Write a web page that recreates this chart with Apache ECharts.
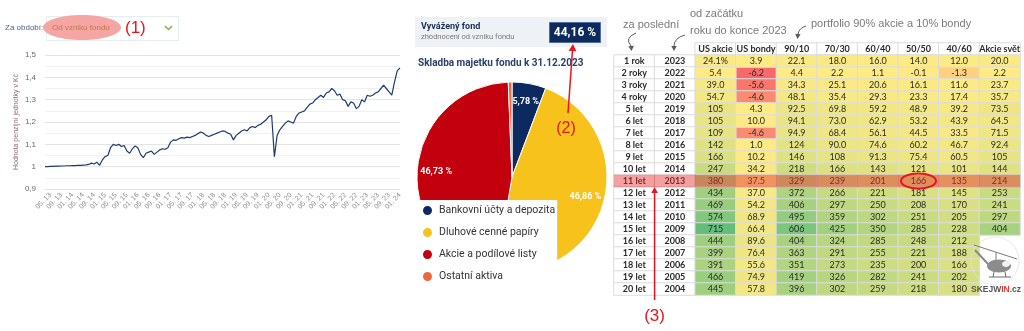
<!DOCTYPE html>
<html>
<head>
<meta charset="utf-8">
<script src="https://cdn.jsdelivr.net/npm/echarts@6/dist/echarts.min.js"></script>
<style>
  html, body { margin: 0; padding: 0; background: #fff; }
  #c { width: 1024px; height: 331px; }
</style>
</head>
<body>
<div id="c"></div>
<script>
// ---- Hodnota penzijní jednotky (měsíční hodnoty od 03.2013) ----
const startYear = 2013;
const startMonth = 3;
const unitValue = [
  // 2013 (03–12)
  1.000, 1.000, 1.001, 1.001, 1.002, 1.002, 1.003, 1.003, 1.004, 1.004,
  // 2014
  1.005, 1.005, 1.006, 1.006, 1.007, 1.008, 1.010, 1.016, 1.012, 1.020, 1.006, 1.030,
  // 2015
  1.045, 1.050, 1.085, 1.100, 1.095, 1.100, 1.090, 1.095, 1.070, 1.060, 1.080, 1.093,
  // 2016
  1.085, 1.055, 1.040, 1.060, 1.065, 1.070, 1.055, 1.065, 1.075, 1.080, 1.078, 1.085,
  // 2017
  1.110, 1.120, 1.118, 1.125, 1.130, 1.128, 1.132, 1.130, 1.135, 1.140, 1.148, 1.155,
  // 2018
  1.150, 1.140, 1.135, 1.140, 1.145, 1.150, 1.155, 1.160, 1.158, 1.150, 1.145, 1.120,
  // 2019
  1.140, 1.150, 1.160, 1.165, 1.160, 1.175, 1.180, 1.175, 1.185, 1.190, 1.200, 1.210,
  // 2020
  1.225, 1.230, 1.045, 1.140, 1.165, 1.180, 1.195, 1.205, 1.200, 1.195, 1.225, 1.240,
  // 2021
  1.245, 1.250, 1.265, 1.280, 1.285, 1.300, 1.310, 1.320, 1.310, 1.330, 1.335, 1.350,
  // 2022
  1.340, 1.320, 1.325, 1.300, 1.295, 1.270, 1.290, 1.285, 1.260, 1.270, 1.300, 1.290,
  // 2023
  1.320, 1.315, 1.320, 1.330, 1.335, 1.350, 1.365, 1.350, 1.335, 1.320, 1.380, 1.430,
  // 2024 (01)
  1.4416
];
const yTicks = { min: 0.9, max: 1.5, step: 0.1 };

// ---- Skladba majetku fondu k 31.12.2023 ----
const fundName = 'Vyvážený fond';
const fundReturn = 44.16;
const assetNames = ['Bankovní účty a depozita', 'Dluhové cenné papíry', 'Akcie a podílové listy', 'Ostatní aktiva'];
const assetShares = [5.78, 46.86, 46.73, 0.63];
const assetColors = ['#0c2a60', '#f8c21c', '#c3000d', '#f0663c'];

// ---- Kumulativní výnosy podle počátečního roku ----
const periodLabels = ['1 rok', '2 roky', '3 roky', '4 roky', '5 let', '6 let', '7 let', '8 let', '9 let', '10 let',
  '11 let', '12 let', '13 let', '14 let', '15 let', '16 let', '17 let', '18 let', '19 let', '20 let'];
const startYears = [2023, 2022, 2021, 2020, 2019, 2018, 2017, 2016, 2015, 2014,
  2013, 2012, 2011, 2010, 2009, 2008, 2007, 2006, 2005, 2004];
const columnNames = ['US akcie', 'US bondy', '90/10', '70/30', '60/40', '50/50', '40/60', 'Akcie svět'];
const usAkcie   = [24.1, 5.4, 39.0, 54.7, 105, 105, 109, 142, 166, 247, 380, 434, 469, 574, 715, 444, 399, 391, 466, 445];
const usBondy   = [3.9, -6.2, -5.6, -4.6, 4.3, 10.0, -4.6, 1.0, 10.2, 34.2, 37.5, 37.0, 54.2, 68.9, 66.4, 89.6, 76.4, 55.6, 74.9, 57.8];
const p90_10    = [22.1, 4.4, 34.3, 48.1, 92.5, 94.1, 94.9, 124, 146, 218, 329, 372, 406, 495, 606, 404, 363, 351, 419, 396];
const p70_30    = [18.0, 2.2, 25.1, 35.4, 69.8, 73.0, 68.4, 90.0, 108, 166, 239, 266, 297, 359, 425, 324, 291, 273, 326, 302];
const p60_40    = [16.0, 1.1, 20.6, 29.3, 59.2, 62.9, 56.1, 74.6, 91.3, 143, 201, 221, 250, 302, 350, 285, 255, 235, 282, 259];
const p50_50    = [14.0, -0.1, 16.1, 23.3, 48.9, 53.2, 44.5, 60.2, 75.4, 121, 166, 181, 208, 251, 285, 248, 221, 200, 241, 218];
const p40_60    = [12.0, -1.3, 11.6, 17.4, 39.2, 43.9, 33.5, 46.7, 60.5, 101, 135, 145, 170, 205, 228, 212, 188, 166, 202, 180];
const akcieSvet = [20.0, 2.2, 23.7, 35.7, 73.5, 64.5, 71.5, 92.4, 105, 144, 214, 253, 241, 297, 404, null, null, null, null, null];
const highlightedPeriod = '11 let';
const circledColumn = '50/50';

// ---------------------------------------------------------------
const chart = echarts.init(document.getElementById('c'), null, { renderer: 'canvas', width: 1024, height: 331 });

const monthLabels = unitValue.map((_, i) => {
  const t = startMonth - 1 + i;
  const y = startYear + Math.floor(t / 12);
  const m = t % 12 + 1;
  return String(m).padStart(2, '0') + '. ' + String(y % 100).padStart(2, '0');
});
const firstLabelIdx = monthLabels.indexOf('05. 13');
const comma = v => String(+v.toFixed(2)).replace('.', ',');

// table cells
const tableColumns = [usAkcie, usBondy, p90_10, p70_30, p60_40, p50_50, p40_60, akcieSvet];
const LEAD = 2; // two leading label columns
const negCells = [], posCells = [], textCells = [];
tableColumns.forEach((col, c) => col.forEach((v, r) => {
  if (v === null) return;
  (v < 0 ? negCells : posCells).push([c + LEAD, r + 1, v]);
}));
columnNames.forEach((_, c) => textCells.push([c + LEAD, 0, 0]));
periodLabels.forEach((_, r) => { textCells.push([0, r + 1, 0]); textCells.push([1, r + 1, 0]); });
const hlRow = periodLabels.indexOf(highlightedPeriod) + 1;
const hlCells = [];
for (let c = 0; c < columnNames.length + LEAD; c++) hlCells.push([c, hlRow, 0]);
const allVals = tableColumns.flat().filter(v => v !== null);
const minVal = Math.min(...allVals), maxVal = Math.max(...allVals);

const fmtCell = (v, c, r) => (Math.abs(v) >= 100 ? String(Math.round(v)) : v.toFixed(1)) + (c === LEAD && r === 1 ? '%' : '');
const textOf = (c, r) => r === 0 ? columnNames[c - LEAD] : (c === 0 ? periodLabels[r - 1] : String(startYears[r - 1]));

const tableFont = { fontFamily: 'Lato, "Open Sans", sans-serif', fontSize: 9, color: '#2a2a2a' };
const cellBorder = { borderColor: '#dcdcdc', borderWidth: 1 };

function arrowHead(tipX, tipY, fromX, fromY, size, color, z) {
  const a = Math.atan2(tipY - fromY, tipX - fromX);
  const w = size * 0.55;
  const bx = tipX - size * Math.cos(a), by = tipY - size * Math.sin(a);
  return {
    type: 'polygon', z: z || 20, silent: true,
    shape: { points: [[tipX, tipY], [bx + w * Math.sin(a), by - w * Math.cos(a)], [bx - w * Math.sin(a), by + w * Math.cos(a)]] },
    style: { fill: color }
  };
}
const txt = (x, y, text, s, z) => ({ type: 'text', x, y, z: z || 5, silent: true,
  style: Object.assign({ text, fill: '#333', fontSize: 10, fontFamily: '"Liberation Sans", Arial, sans-serif', align: 'left', verticalAlign: 'middle' }, s) });

const greyArrow = '#5a5a5a';
const baseGraphic = [
  // period selector
  txt(5, 28, 'Za období:', { fill: '#4b5f88', fontSize: 8 }),
  { type: 'rect', z: 1, silent: true, shape: { x: 46.5, y: 16.5, width: 132, height: 24 }, style: { fill: '#fff', stroke: '#e4eeee', lineWidth: 1 } },
  { type: 'ellipse', z: 2, silent: true, shape: { cx: 82, cy: 27.5, rx: 39, ry: 12.5 }, style: { fill: '#f6a5a5' } },
  txt(52, 28, 'Od vzniku fondu', { fill: '#c27a45', fontSize: 8 }, 3),
  txt(125, 28, '(1)', { fill: '#e8141c', fontSize: 17 }, 3),
  { type: 'polyline', z: 3, silent: true, shape: { points: [[165, 26], [168.5, 29.5], [172, 26]] }, style: { stroke: '#7cb342', lineWidth: 1.5, fill: null } },

  // fund return box
  { type: 'rect', z: 1, silent: true, shape: { x: 415, y: 17, width: 192, height: 30 }, style: { fill: '#eef1f5' } },
  txt(421, 27, fundName, { fill: '#1c2e55', fontSize: 9, fontWeight: 'bold', fontFamily: 'Roboto, sans-serif' }),
  txt(421, 37.5, 'zhodnocení od vzniku fondu', { fill: '#7a7a7a', fontSize: 7.5, fontFamily: 'Roboto, sans-serif' }),
  { type: 'rect', z: 2, silent: true, shape: { x: 549.5, y: 22.5, width: 51, height: 20 }, style: { fill: '#0d2a5c', stroke: '#4f6c9e', lineWidth: 1 } },
  txt(575, 33, comma(fundReturn) + ' %', { fill: '#fff', fontSize: 12, fontWeight: 'bold', fontFamily: 'Roboto, sans-serif', align: 'center' }, 3),
  txt(418, 63, 'Skladba majetku fondu k 31.12.2023', { fill: '#2b3f6b', fontSize: 10, fontWeight: 'bold', fontFamily: 'Roboto, sans-serif' }),

  // (2) pointer
  { type: 'line', z: 20, silent: true, shape: { x1: 568, y1: 113, x2: 572.5, y2: 50 }, style: { stroke: '#e8141c', lineWidth: 1.5 } },
  arrowHead(573, 44, 568, 113, 7, '#e8141c'),
  txt(566, 129, '(2)', { fill: '#e8141c', fontSize: 16, align: 'center' }, 20),

  // notes above the table
  txt(623, 25, 'za poslední', { fill: '#7a7a7a', fontSize: 11 }),
  txt(690, 14, 'od začátku', { fill: '#7a7a7a', fontSize: 11 }),
  txt(690, 31, 'roku do konce 2023', { fill: '#7a7a7a', fontSize: 11 }),
  txt(811, 24, 'portfolio 90% akcie a 10% bondy', { fill: '#7a7a7a', fontSize: 11 }),
  { type: 'bezierCurve', z: 20, silent: true, shape: { x1: 636, y1: 33, cpx1: 624, cpy1: 38, x2: 631, y2: 46 }, style: { stroke: greyArrow, lineWidth: 1, fill: null } },
  arrowHead(631.5, 51, 631, 44, 5, greyArrow),
  { type: 'bezierCurve', z: 20, silent: true, shape: { x1: 685, y1: 35, cpx1: 674, cpy1: 38, x2: 674, y2: 46 }, style: { stroke: greyArrow, lineWidth: 1, fill: null } },
  arrowHead(674, 51, 674, 44, 5, greyArrow),
  { type: 'bezierCurve', z: 20, silent: true, shape: { x1: 806, y1: 26, cpx1: 799, cpy1: 28, x2: 798, y2: 34 }, style: { stroke: greyArrow, lineWidth: 1, fill: null } },
  arrowHead(797.5, 39, 798, 33, 5, greyArrow),

  // logo
  { type: 'circle', z: 5, silent: true, shape: { cx: 995, cy: 261, r: 24 }, style: { fill: null, stroke: '#e2e2e2', lineWidth: 0.8 } },
  { type: 'line', z: 6, silent: true, shape: { x1: 974, y1: 245, x2: 1017, y2: 259 }, style: { stroke: '#7a7a7a', lineWidth: 1 } },
  { type: 'line', z: 6, silent: true, shape: { x1: 996, y1: 252, x2: 996, y2: 260 }, style: { stroke: '#7a7a7a', lineWidth: 1 } },
  { type: 'line', z: 6, silent: true, shape: { x1: 988, y1: 264, x2: 975, y2: 250 }, style: { stroke: '#8a8a8a', lineWidth: 2 } },
  { type: 'ellipse', z: 6, silent: true, shape: { cx: 999, cy: 266, rx: 12, ry: 6.5 }, style: { fill: '#8c8c8c' } },
  { type: 'ellipse', z: 7, silent: true, shape: { cx: 1006, cy: 264, rx: 4, ry: 3 }, style: { fill: '#f2f2f2' } },
  { type: 'line', z: 6, silent: true, shape: { x1: 989, y1: 277, x2: 1011, y2: 277 }, style: { stroke: '#6a6a6a', lineWidth: 1 } },
  { type: 'line', z: 6, silent: true, shape: { x1: 994, y1: 272, x2: 993, y2: 277 }, style: { stroke: '#6a6a6a', lineWidth: 1 } },
  { type: 'line', z: 6, silent: true, shape: { x1: 1005, y1: 272, x2: 1006, y2: 277 }, style: { stroke: '#6a6a6a', lineWidth: 1 } },
  { type: 'text', z: 6, silent: true, x: 996, y: 290, style: {
      text: '{a|SKEJW}{b|IN}{a|.cz}', align: 'center', verticalAlign: 'middle',
      rich: { a: { fill: '#555', fontSize: 8.5, fontWeight: 'bold', fontFamily: '"Liberation Sans", Arial' },
              b: { fill: '#e53935', fontSize: 8.5, fontWeight: 'bold', fontFamily: '"Liberation Sans", Arial' } } } }
];

const option = {
  animation: false,
  backgroundColor: '#fff',
  grid: [
    { left: 45, right: 624, top: 55, bottom: 142 },
    { left: 614, top: 43, width: 406, height: 252 }
  ],
  xAxis: [
    {
      gridIndex: 0, type: 'category', data: monthLabels, boundaryGap: false,
      axisLine: { show: false }, axisTick: { show: false },
      axisLabel: {
        interval: i => i >= firstLabelIdx && (i - firstLabelIdx) % 4 === 0,
        rotate: 45, fontSize: 7, color: '#8a8a8a', margin: 5,
        fontFamily: '"Liberation Sans", Arial, sans-serif'
      },
      splitLine: { show: false }
    },
    { gridIndex: 1, type: 'category', data: [...Array(columnNames.length + LEAD).keys()], show: false }
  ],
  yAxis: [
    {
      gridIndex: 0, type: 'value', min: yTicks.min, max: yTicks.max, interval: yTicks.step,
      name: 'Hodnota penzijní jednotky v Kč', nameLocation: 'middle', nameGap: 25, nameRotate: 90,
      nameTextStyle: { fontSize: 7, color: '#8c6e6e', fontFamily: '"Liberation Sans", Arial, sans-serif' },
      axisLine: { show: false }, axisTick: { show: false },
      axisLabel: { fontSize: 8, color: '#6a6a6a', margin: 9, fontFamily: '"Liberation Sans", Arial, sans-serif',
        formatter: v => comma(v) },
      splitLine: { lineStyle: { color: '#e4e4e4', width: 1 } },
      minorTick: { show: false, splitNumber: 2 },
      minorSplitLine: { show: true, lineStyle: { color: '#f1f1f1', width: 1 } }
    },
    { gridIndex: 1, type: 'category', data: [...Array(periodLabels.length + 1).keys()], inverse: true, show: false }
  ],
  legend: {
    orient: 'vertical', left: 418, top: 200, z: 10, selectedMode: false,
    padding: [4, 2, 6, 3], itemGap: 9, itemWidth: 11, itemHeight: 11, icon: 'circle',
    backgroundColor: '#fff',
    textStyle: { fontFamily: 'Roboto, sans-serif', fontSize: 10.5, color: '#333', padding: [0, 0, 0, 1] },
    data: assetNames.map((n, i) => ({ name: n, itemStyle: { color: assetColors[i] } }))
  },
  visualMap: [
    { type: 'continuous', show: false, seriesIndex: 4, dimension: 2, min: minVal, max: 0,
      inRange: { color: ['#f8696b', '#ffeb84'] } },
    { type: 'continuous', show: false, seriesIndex: 5, dimension: 2, min: 0, max: maxVal,
      inRange: { color: ['#ffeb84', '#63be7b'] } }
  ],
  series: [
    {
      type: 'line', xAxisIndex: 0, yAxisIndex: 0, data: unitValue, showSymbol: false,
      lineStyle: { color: '#1f3a6e', width: 1.2 }, itemStyle: { color: '#1f3a6e' }, silent: true
    },
    {
      type: 'pie', center: [512, 177], radius: 95, startAngle: 90, clockwise: true, silent: true,
      data: assetNames.map((n, i) => ({ name: n, value: assetShares[i], itemStyle: { color: assetColors[i] } })),
      itemStyle: { borderColor: '#fff', borderWidth: 1 },
      label: { show: false }, labelLine: { show: false }
    },
    {
      // percentage labels of the pie
      type: 'pie', center: [512, 177], radius: [0, 146], startAngle: 90, clockwise: true, silent: true, z: 3,
      data: assetNames.map((n, i) => ({ name: n, value: assetShares[i], itemStyle: { color: 'rgba(0,0,0,0)' } })),
      label: { show: true, position: 'inside', color: '#fff', fontSize: 9, fontWeight: 'bold', fontFamily: 'Roboto, sans-serif',
        formatter: p => p.value >= 1 ? comma(p.value) + ' %' : '' },
      labelLine: { show: false }, legendHoverLink: false
    },
    {
      type: 'heatmap', xAxisIndex: 1, yAxisIndex: 1, data: textCells, silent: true,
      itemStyle: Object.assign({ color: '#fff' }, cellBorder),
      label: Object.assign({ show: true, fontWeight: 'bold', formatter: p => textOf(p.value[0], p.value[1]) }, tableFont)
    },
    {
      type: 'heatmap', xAxisIndex: 1, yAxisIndex: 1, data: negCells, silent: true,
      itemStyle: cellBorder,
      label: Object.assign({ show: true, formatter: p => fmtCell(p.value[2], p.value[0], p.value[1]) }, tableFont)
    },
    {
      type: 'heatmap', xAxisIndex: 1, yAxisIndex: 1, data: posCells, silent: true,
      itemStyle: cellBorder,
      label: Object.assign({ show: true, formatter: p => fmtCell(p.value[2], p.value[0], p.value[1]) }, tableFont)
    },
    {
      // highlighted period row
      type: 'heatmap', xAxisIndex: 1, yAxisIndex: 1, data: hlCells, silent: true, z: 4,
      itemStyle: { color: 'rgba(230,44,44,0.45)' }, label: { show: false }
    }
  ],
  graphic: baseGraphic
};
chart.setOption(option);

// annotations tied to table cells
const ringCol = columnNames.indexOf(circledColumn) + LEAD;
const [rx, ry] = chart.convertToPixel({ gridIndex: 1 }, [ringCol, hlRow]);
const c0 = chart.convertToPixel({ gridIndex: 1 }, [0, hlRow]);
const c1 = chart.convertToPixel({ gridIndex: 1 }, [1, hlRow]);
const ax = (c0[0] + c1[0]) / 2, ay = c0[1];
const rowH = 252 / (periodLabels.length + 1);
chart.setOption({
  graphic: baseGraphic.concat([
    { type: 'ellipse', z: 30, silent: true, shape: { cx: rx, cy: ry, rx: 17.5, ry: 7.5 }, style: { fill: null, stroke: '#e8141c', lineWidth: 2 } },
    { type: 'line', z: 30, silent: true, shape: { x1: ax, y1: 300, x2: ax, y2: ay + rowH / 2 + 5 }, style: { stroke: '#e8141c', lineWidth: 1.5 } },
    arrowHead(ax, ay + rowH / 2, ax, 300, 6, '#e8141c', 30),
    txt(ax, 316, '(3)', { fill: '#e8141c', fontSize: 17, align: 'center' }, 30)
  ])
});
</script>
</body>
</html>
